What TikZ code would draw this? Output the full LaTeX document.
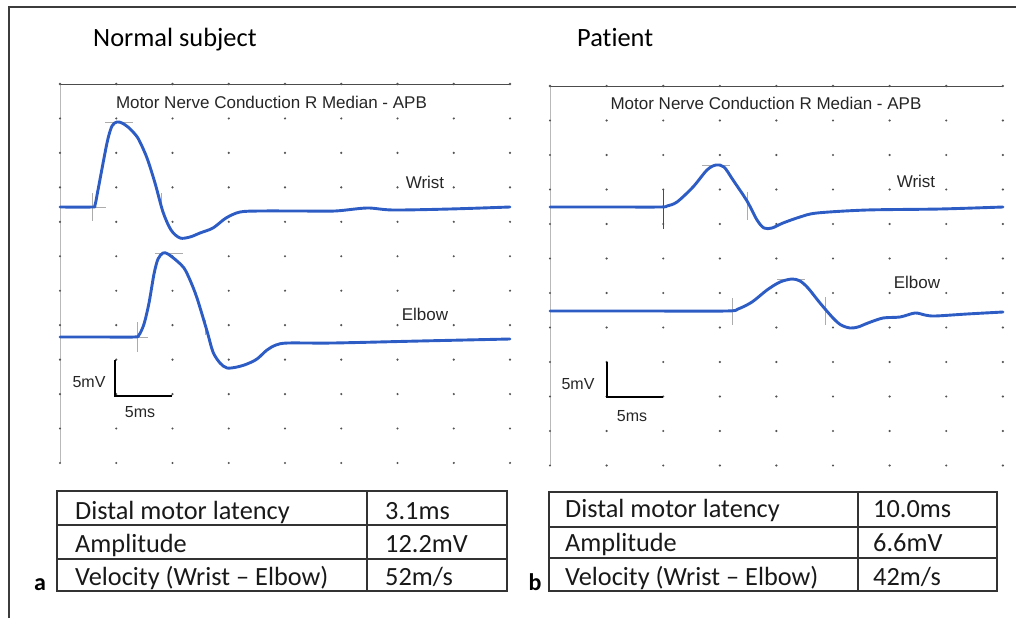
\documentclass[tikz,border=0pt]{standalone}
\usepackage{fontspec}
\setmainfont{Carlito}[Ligatures=NoCommon]
\newfontfamily\arialf{Liberation Sans}
\definecolor{tracec}{RGB}{44,92,196}
\definecolor{framec}{RGB}{60,60,60}
\begin{document}
\begin{tikzpicture}[x=1pt,y=-1pt]
\useasboundingbox (0,0) rectangle (1016,618);
\tikzset{
  trace/.style={draw=tracec, line width=2.9pt, line join=round, line cap=round},
  marker/.style={draw=gray!65, line width=0.9pt},
  gdot/.style={fill=gray!65!black},
  axisline/.style={draw=gray!55, line width=0.9pt},
  topline/.style={draw=gray!60!black, line width=0.9pt},
  title/.style={font=\fontsize{26.4}{29}\selectfont, anchor=base west, inner sep=0pt},
  plabel/.style={font=\arialf\fontsize{17}{19}\selectfont, inner sep=0pt, text=black!85},
  sbar/.style={font=\arialf\fontsize{16}{18}\selectfont, inner sep=0pt, text=black!85},
  scalebar/.style={draw=black, line width=1.7pt},
  tab/.style={draw=black!80, line width=1.4pt},
  cell/.style={font=\fontsize{26.3}{29}\selectfont, anchor=base west, inner sep=0pt, text=black!90},
  letter/.style={font=\bfseries\fontsize{24}{26}\selectfont, anchor=base, inner sep=0pt}
}
% outer frame
\draw[draw=framec, line width=1.3pt] (9,618) -- (9,7) -- (1016,7);

% titles
\node[title] (t1) at (93,47) {Normal subject};
\node[title] (t2) at (577,47) {Patient};

% ---------- grid left ----------
\draw[topline] (60,84) -- (510,84);
\draw[axisline] (60,84) -- (60,463);
\foreach \i in {0,...,8}{
  \fill[gdot] ({60+\i*56.25},84) circle (1.3);
  \foreach \k in {1,...,11}{
    \fill[gdot] ({60+\i*56.25},{84+\k*34.45}) circle (1.2);
  }
}
% ---------- grid right ----------
\draw[topline] (550,86) -- (1003,86);
\draw[axisline] (550,86) -- (550,466);
\foreach \i in {0,...,8}{
  \fill[gdot] ({550+\i*56.6},86) circle (1.3);
  \foreach \k in {1,...,11}{
    \fill[gdot] ({550+\i*56.6},{86+\k*34.5}) circle (1.2);
  }
}

% plot titles
\node[plabel] (p1) at (271.5,102) {Motor Nerve Conduction R Median - APB};
\node[plabel] (p2) at (766,103) {Motor Nerve Conduction R Median - APB};
\node[plabel] (w1) at (425,182) {Wrist};
\node[plabel] (e1) at (425,314) {Elbow};
\node[plabel] (w2) at (916,181) {Wrist};
\node[plabel] (e2) at (917,282) {Elbow};

% markers left
\draw[marker] (92,193) -- (92,221);
\draw[marker] (92,207) -- (106,207);
\draw[marker] (105,122) -- (133,122);
\draw[marker] (161,193) -- (161,210);
\draw[marker] (137,322) -- (137,352);
\draw[marker] (137,337) -- (148,337);
\draw[marker] (155,253) -- (183,253);
\draw[marker] (205,320) -- (205,335);
% markers right
\draw[marker, draw=gray!60!black] (663,190) -- (663,229);
\draw[marker] (702,165) -- (730,165);
\draw[marker] (747,192) -- (747,220);
\draw[marker] (732,298) -- (732,325);
\draw[marker] (777,279) -- (805,279);
\draw[marker] (825,297) -- (825,325);

% traces
\draw[trace] plot[smooth, tension=0.5] coordinates {
 (60,207) (92,207) (95,205) (98,190) (107,143) (112,126) (117,122) (122,123)
 (128,127) (134,133) (139,140) (147,158) (155,183) (163,212) (171,230) (180,238)
 (190,237) (200,233) (213,228) (226,218) (240,212) (260,211) (300,211) (335,211)
 (367,208) (393,210) (450,209) (510,207)};
\draw[trace] plot[smooth, tension=0.5] coordinates {
 (60,337) (100,337) (134,337) (139,335) (144,324) (149,303) (154,274) (158,259) (163,253) (168,254)
 (177,261) (184,268) (190,280) (197,298) (207,331) (213,352) (220,363) (227,368)
 (237,367) (247,364) (257,359) (267,350) (276,345) (288,343) (333,343) (420,341) (510,339)};
\draw[trace] plot[smooth, tension=0.5] coordinates {
 (550,207) (610,207) (660,207) (667,206) (677,202) (693,187) (707,170) (716,165) (724,167)
 (733,180) (747,201) (757,220) (764,228) (772,228) (783,223) (800,217) (817,213)
 (867,210) (940,209) (1003,207)};
\draw[trace] plot[smooth, tension=0.5] coordinates {
 (550,311) (640,311) (726,311) (738,309) (752,302) (767,290) (780,282) (792,279) (800,281)
 (808,288) (820,303) (833,318) (841,325) (850,328) (858,327) (868,323) (883,318)
 (900,317) (915,313) (925,315) (935,316) (967,314) (1003,312)};

% scale bars
\draw[scalebar] (115,360) -- (115,396) -- (172,396);
\node[sbar] (mv1) at (89,382) {5mV};
\node[sbar] (ms1) at (140,412) {5ms};
\draw[scalebar] (607,362) -- (607,397) -- (663,397);
\node[sbar] (mv2) at (578,384) {5mV};
\node[sbar] (ms2) at (632,416) {5ms};

% table left
\draw[tab] (57,491) rectangle (507,591);
\draw[tab] (57,525) -- (507,525);
\draw[tab] (57,559) -- (507,559);
\draw[tab] (367,491) -- (367,591);
\node[cell] (a1) at (75,519) {Distal motor latency};
\node[cell] (a2) at (75,552) {Amplitude};
\node[cell] (a3) at (75,585) {Velocity (Wrist – Elbow)};
\node[cell] (a4) at (385,519) {3.1ms};
\node[cell] (a5) at (385,552) {12.2mV};
\node[cell] (a6) at (385,585) {52m/s};
\node[letter] (la) at (40,590) {a};

% table right
\draw[tab] (549,492) rectangle (997,591);
\draw[tab] (549,527) -- (997,527);
\draw[tab] (549,558) -- (997,558);
\draw[tab] (858,492) -- (858,591);
\node[cell] (b1) at (565,517) {Distal motor latency};
\node[cell] (b2) at (565,551) {Amplitude};
\node[cell] (b3) at (565,585) {Velocity (Wrist – Elbow)};
\node[cell] (b4) at (873,517) {10.0ms};
\node[cell] (b5) at (873,551) {6.6mV};
\node[cell] (b6) at (873,585) {42m/s};
\node[letter] (lb) at (535,590) {b};
\end{tikzpicture}
\end{document}
